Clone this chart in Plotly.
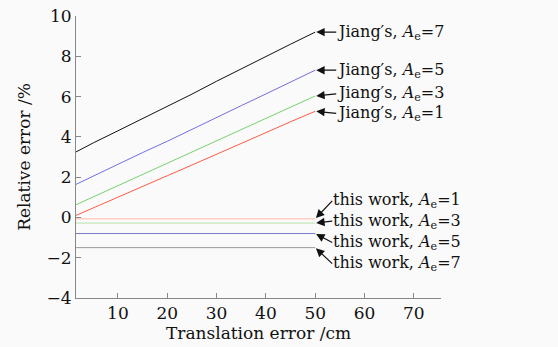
import plotly.graph_objects as go

x = [1.5, 5, 10, 15, 20, 25, 30, 35, 40, 45, 50]

jiang_7 = [3.25, 3.70, 4.30, 4.90, 5.50, 6.12, 6.76, 7.36, 7.97, 8.60, 9.20]
jiang_5 = [1.64, 2.06, 2.62, 3.22, 3.78, 4.38, 4.95, 5.55, 6.13, 6.72, 7.31]
jiang_3 = [0.63, 1.02, 1.58, 2.13, 2.68, 3.25, 3.80, 4.36, 4.91, 5.48, 6.03]
jiang_1 = [0.10, 0.48, 1.00, 1.55, 2.07, 2.60, 3.15, 3.68, 4.21, 4.75, 5.27]

this_1 = [-0.07] * len(x)
this_3 = [-0.28] * len(x)
this_5 = [-0.80, -0.80, -0.80, -0.79, -0.80, -0.80, -0.79, -0.80, -0.80, -0.79, -0.80]
this_7 = [-1.50] * len(x)

x_ticks = [10, 20, 30, 40, 50, 60, 70]
y_ticks = [-4, -2, 0, 2, 4, 6, 8, 10]
y_tick_text = ["−4", "−2", "0", "2", "4", "6", "8", "10"]

series = [
    (this_1, "#ffb8a8"),
    (this_3, "#b8e0a8"),
    (this_5, "#7878c8"),
    (this_7, "#999999"),
    (jiang_1, "#ff5a45"),
    (jiang_3, "#78d070"),
    (jiang_5, "#7070e0"),
    (jiang_7, "#111111"),
]

fig = go.Figure()
for ys, c in series:
    fig.add_trace(go.Scatter(x=x, y=ys, mode="lines", line=dict(color=c, width=1),
                             showlegend=False, hoverinfo="skip"))

fam = "DejaVu Serif, Liberation Serif, serif"
font = dict(family=fam, size=16, color="#111111")

def lab(who, n):
    return f"{who}, <i>A</i><sub>e</sub>={n}"

ann = [
    (jiang_7[-1], lab("Jiang′s", 7), 21, 0),
    (jiang_5[-1], lab("Jiang′s", 5), 21, 0),
    (jiang_3[-1], lab("Jiang′s", 3), 21, -2),
    (jiang_1[-1], lab("Jiang′s", 1), 21, 2),
    (this_1[-1], lab("this work", 1), 17, -18),
    (this_3[-1], lab("this work", 3), 17, -2),
    (this_5[-1], lab("this work", 5), 17, 9),
    (this_7[-1], lab("this work", 7), 17, 16),
]
for yv, txt, ax, ay in ann:
    fig.add_annotation(x=50, y=yv, xref="x", yref="y", text=txt, showarrow=True,
                       ax=ax, ay=ay, xanchor="left", yanchor="middle",
                       arrowhead=2, arrowsize=1.4, arrowwidth=1.2, arrowcolor="#111111",
                       standoff=1, borderpad=0, font=font)

fig.update_layout(
    width=558, height=347,
    margin=dict(l=76, r=117, t=16, b=49, autoexpand=False),
    paper_bgcolor="#fafafa", plot_bgcolor="#fafafa",
    font=font,
    xaxis=dict(range=[1.5, 75.5], tickvals=x_ticks, ticks="inside", ticklen=5,
               tickcolor="#888888", showline=True, linecolor="#888888", linewidth=1,
               showgrid=False, zeroline=False, tickfont=dict(size=17), automargin=False,
               ticklabeloverflow="allow",
               title=dict(text="Translation error /cm", font=dict(size=17), standoff=0)),
    yaxis=dict(range=[-4, 10], tickvals=y_ticks, ticktext=y_tick_text,
               ticks="inside", ticklen=5,
               tickcolor="#888888", showline=True, linecolor="#888888", linewidth=1,
               showgrid=False, zeroline=False, tickfont=dict(size=17), automargin=False,
               ticklabeloverflow="allow",
               title=dict(text="Relative error /%", font=dict(size=17), standoff=11)),
)

fig.write_html("out.html", config={"displayModeBar": False},
               post_script="document.body.style.margin='0';document.body.style.overflow='hidden';")
